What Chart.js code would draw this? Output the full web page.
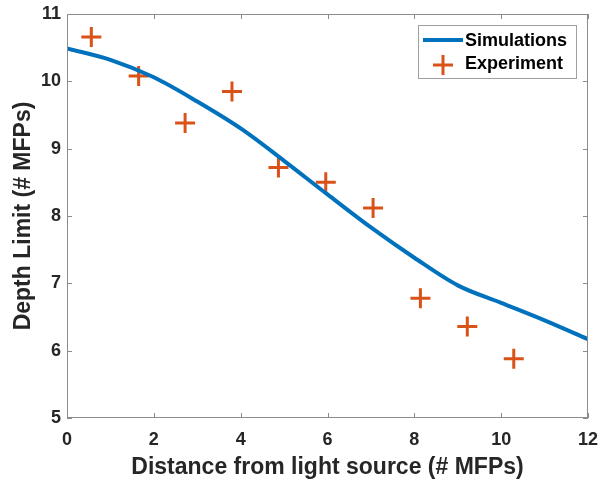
<!DOCTYPE html>
<html>
<head>
<meta charset="utf-8">
<script src="https://cdn.jsdelivr.net/npm/chart.js@4"></script>
<style>
  html, body { margin: 0; padding: 0; background: #fff; }
  #wrap { width: 601px; height: 485px; }
</style>
</head>
<body>
<div id="wrap"><canvas id="chart"></canvas></div>
<script>
// simulation curve
const simX = [0, 1, 2, 3, 4, 5, 6, 7, 8, 9, 10, 11, 12]
const simY = [10.49, 10.32, 10.06, 9.70, 9.30, 8.82, 8.32, 7.83, 7.38, 6.97, 6.71, 6.45, 6.17]

// experiment points
const expX = [0.56, 1.65, 2.72, 3.80, 4.87, 5.96, 7.05, 8.14, 9.22, 10.29]
const expY = [10.66, 10.08, 9.38, 9.85, 8.72, 8.50, 8.12, 6.78, 6.36, 5.88]

const xTicks = [0, 2, 4, 6, 8, 10, 12]
const yTicks = [5, 6, 7, 8, 9, 10, 11]

const blue = '#0072BD'
const orange = '#D95319'
const axisColor = '#8c8c8c'
const textColor = '#262626'
const font = "'Liberation Sans', Arial, sans-serif"

// box, inward ticks on all four sides, legend inside the plot
const matlabAxes = {
  id: 'matlabAxes',
  afterDraw(chart) {
    const { ctx, chartArea: a, scales } = chart
    ctx.save()
    ctx.strokeStyle = axisColor
    ctx.lineWidth = 1
    ctx.strokeRect(a.left + 0.5, a.top + 0.5, a.right - a.left - 1, a.bottom - a.top - 1)
    const len = 5
    ctx.beginPath()
    xTicks.forEach((v) => {
      const px = Math.round(scales.x.getPixelForValue(v)) + 0.5
      ctx.moveTo(px, a.bottom); ctx.lineTo(px, a.bottom - len)
      ctx.moveTo(px, a.top); ctx.lineTo(px, a.top + len)
    })
    yTicks.forEach((v) => {
      const py = Math.round(scales.y.getPixelForValue(v)) + 0.5
      ctx.moveTo(a.left, py); ctx.lineTo(a.left + len, py)
      ctx.moveTo(a.right, py); ctx.lineTo(a.right - len, py)
    })
    ctx.stroke()

    // legend
    const lx = 418, ly = 25, lw = 158, lh = 53
    ctx.fillStyle = '#fff'
    ctx.fillRect(lx, ly, lw, lh)
    ctx.strokeStyle = '#a0a0a0'
    ctx.strokeRect(lx + 0.5, ly + 0.5, lw, lh)
    ctx.font = `bold 18px ${font}`
    ctx.fillStyle = '#000'
    ctx.textBaseline = 'middle'
    ctx.textAlign = 'left'
    const ds = chart.data.datasets
    ctx.strokeStyle = blue
    ctx.lineWidth = 4
    ctx.beginPath(); ctx.moveTo(423, 40); ctx.lineTo(463, 40); ctx.stroke()
    ctx.fillText(ds[0].label, 465, 41)
    ctx.strokeStyle = orange
    ctx.lineWidth = 3
    ctx.beginPath()
    ctx.moveTo(433, 65); ctx.lineTo(453, 65)
    ctx.moveTo(443, 55); ctx.lineTo(443, 75)
    ctx.stroke()
    ctx.fillText(ds[1].label, 465, 64)
    ctx.restore()
  }
}

new Chart(document.getElementById('chart'), {
  type: 'scatter',
  data: {
    datasets: [
      {
        label: 'Simulations',
        data: simX.map((x, i) => ({ x: x, y: simY[i] })),
        showLine: true,
        cubicInterpolationMode: 'monotone',
        borderColor: blue,
        backgroundColor: blue,
        borderWidth: 4,
        pointRadius: 0
      },
      {
        label: 'Experiment',
        data: expX.map((x, i) => ({ x: x, y: expY[i] })),
        showLine: false,
        pointStyle: 'cross',
        pointRadius: 10,
        pointBorderWidth: 3,
        borderColor: orange,
        backgroundColor: orange
      }
    ]
  },
  options: {
    responsive: true,
    maintainAspectRatio: false,
    animation: false,
    layout: { padding: { top: 14, right: 13, left: 0, bottom: 0 } },
    plugins: {
      legend: { display: false },
      tooltip: { enabled: false }
    },
    scales: {
      x: {
        type: 'linear',
        min: 0,
        max: 12,
        afterBuildTicks: (axis) => { axis.ticks = xTicks.map((v) => ({ value: v })) },
        afterFit: (axis) => {
          axis.height = 67
          axis.paddingLeft = 0
          axis.paddingRight = 0
        },
        grid: { display: false, drawTicks: false },
        border: { display: false },
        ticks: { color: textColor, padding: 11, font: { family: font, size: 18, weight: 'bold' } },
        title: {
          display: true,
          text: 'Distance from light source (# MFPs)',
          color: textColor,
          padding: { top: 2 },
          font: { family: font, size: 23, weight: 'bold' }
        }
      },
      y: {
        type: 'linear',
        min: 5,
        max: 11,
        afterBuildTicks: (axis) => { axis.ticks = yTicks.map((v) => ({ value: v })) },
        afterFit: (axis) => {
          axis.width = 67
          axis.paddingTop = 0
          axis.paddingBottom = 0
        },
        grid: { display: false, drawTicks: false },
        border: { display: false },
        ticks: { color: textColor, padding: 6, font: { family: font, size: 18, weight: 'bold' } },
        title: {
          display: true,
          text: 'Depth Limit (# MFPs)',
          color: textColor,
          padding: { top: 10, bottom: 0 },
          font: { family: font, size: 23, weight: 'bold' }
        }
      }
    }
  },
  plugins: [matlabAxes]
})
</script>
</body>
</html>
